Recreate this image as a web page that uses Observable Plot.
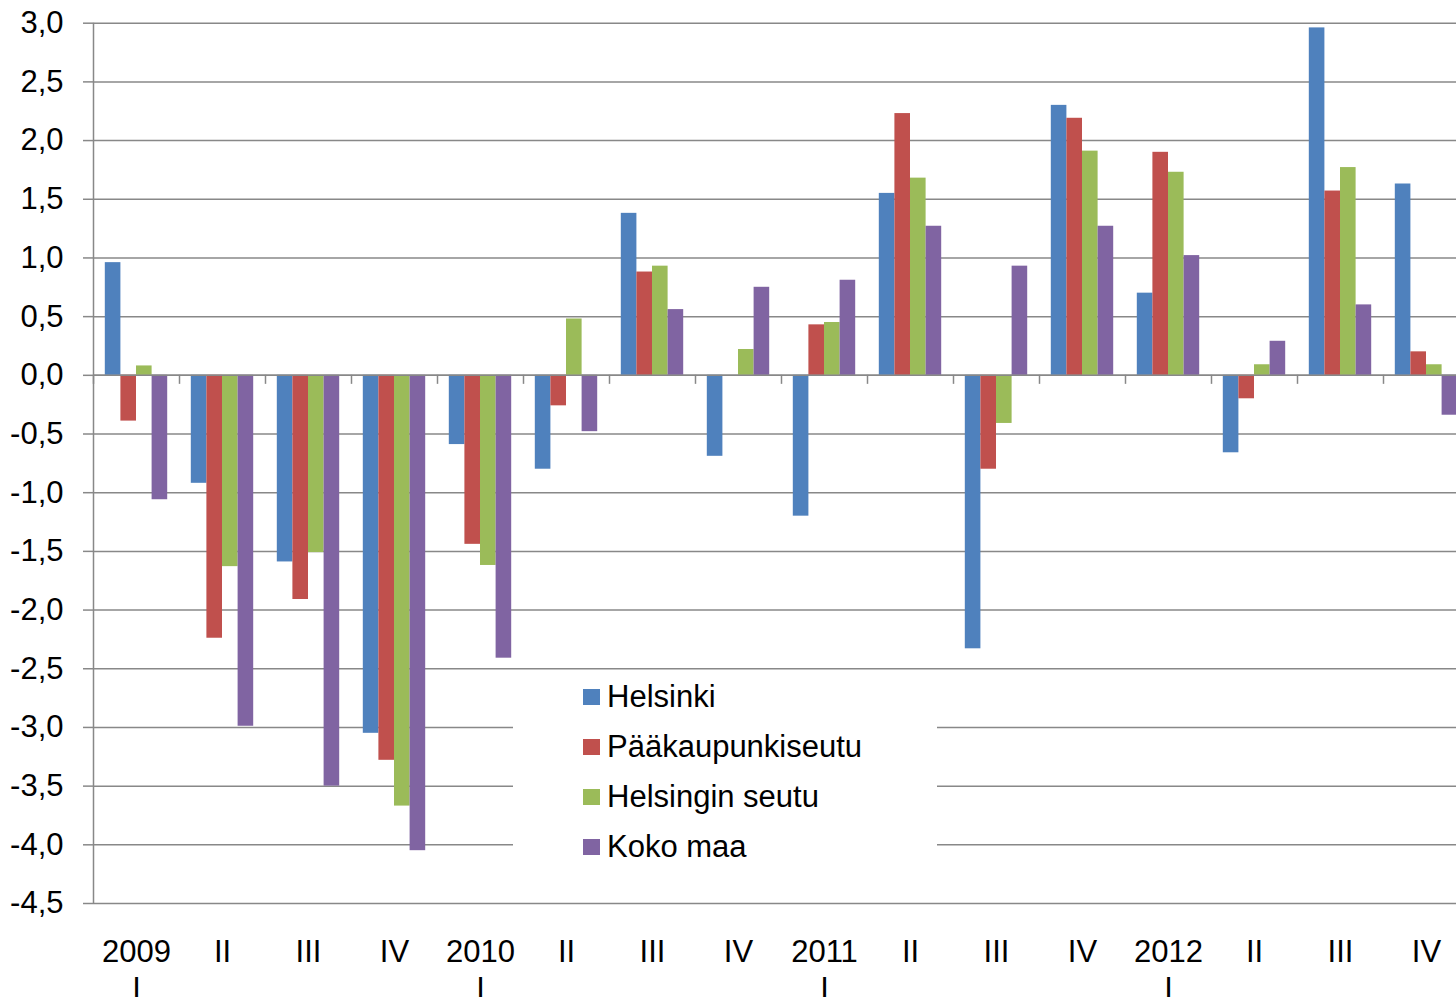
<!DOCTYPE html>
<html><head><meta charset="utf-8">
<script src="https://cdn.jsdelivr.net/npm/d3@7"></script>
<script src="https://cdn.jsdelivr.net/npm/@observablehq/plot@0.6"></script>
<style>
html,body{margin:0;padding:0;background:#fff;overflow:hidden;}
#wrap{position:relative;width:1456px;height:997px;}
#legend{position:absolute;left:513px;top:672px;width:424px;height:228px;background:#fff;font-family:"Liberation Sans",Arial,sans-serif;font-size:31px;color:#000;}
.item{display:flex;align-items:center;height:50px;padding-left:70px;}
.sw{width:17px;height:16px;margin-right:7px;flex:none;}
</style></head><body><div id="wrap"></div>
<script>
const quarters = ["2009 I","2009 II","2009 III","2009 IV","2010 I","2010 II","2010 III","2010 IV","2011 I","2011 II","2011 III","2011 IV","2012 I","2012 II","2012 III","2012 IV"];
const tickLabels = ["2009\nI","II","III","IV","2010\nI","II","III","IV","2011\nI","II","III","IV","2012\nI","II","III","IV"];
const seriesNames = ["Helsinki","Pääkaupunkiseutu","Helsingin seutu","Koko maa"];
const colors = ["#4F81BD","#C0504D","#9BBB59","#8064A2"];
const helsinki         = [0.96,-0.92,-1.59,-3.05,-0.59,-0.80,1.38,-0.69,-1.20,1.55,-2.33,2.30,0.70,-0.66,2.96,1.63];
const paakaupunkiseutu = [-0.39,-2.24,-1.91,-3.28,-1.44,-0.26,0.88,0.00,0.43,2.23,-0.80,2.19,1.90,-0.20,1.57,0.20];
const helsinginSeutu   = [0.08,-1.63,-1.51,-3.67,-1.62,0.48,0.93,0.22,0.45,1.68,-0.41,1.91,1.73,0.09,1.77,0.09];
const kokoMaa          = [-1.06,-2.99,-3.50,-4.05,-2.41,-0.48,0.56,0.75,0.81,1.27,0.93,1.27,1.02,0.29,0.60,-0.34];
const yTicks = [-4.5,-4.0,-3.5,-3.0,-2.5,-2.0,-1.5,-1.0,-0.5,0.0,0.5,1.0,1.5,2.0,2.5,3.0];

const seriesValues = [helsinki, paakaupunkiseutu, helsinginSeutu, kokoMaa];
const table = seriesNames.flatMap((s, i) => quarters.map((q, j) => ({quarter: q, series: s, value: seriesValues[i][j]})));

const xRange = [92.7, 1468.7];
const band = (xRange[1] - xRange[0]) / quarters.length;
const half = band / 2;
const slot = 15.6, groupStart = 11.8;
const gray = "#888888";
const font = '"Liberation Sans", Arial, sans-serif';

const barMarks = seriesNames.map((s, i) => Plot.barY(table.filter(d => d.series === s), {
  x: "quarter", y1: 0, y2: "value", fill: colors[i],
  insetLeft: groupStart + i * slot,
  insetRight: band - groupStart - (i + 1) * slot
}));

const chart = Plot.plot({
  width: 1456, height: 997,
  marginLeft: 93, marginRight: 0, marginTop: 23, marginBottom: 94,
  style: {fontFamily: font, background: "#fff", color: "#000"},
  x: {type: "band", domain: quarters, range: xRange, padding: 0},
  y: {domain: [-4.5, 3], range: [903, 22.7]},
  marks: [
    Plot.gridY(yTicks, {stroke: gray, strokeOpacity: 1, strokeWidth: 1.5}),
    ...barMarks,
    Plot.ruleY([0], {stroke: gray, strokeWidth: 1.5}),
    Plot.ruleX([quarters[0]], {dx: -half, y1: -4.5, y2: 3, stroke: gray, strokeWidth: 1.5}),
    Plot.ruleX(quarters, {dx: -half, y1: 0, y2: -0.077, stroke: gray, strokeWidth: 1.5}),
    Plot.axisY(yTicks, {tickSize: 10, tickPadding: 20, stroke: gray, strokeWidth: 1.5, fill: "#000", fontSize: 31,
      tickFormat: d => d.toFixed(1).replace(".", ","), label: null}),
    Plot.axisX({tickSize: 0, tickPadding: 32, fill: "#000", fontSize: 31, lineHeight: 1.2,
      tickFormat: q => tickLabels[quarters.indexOf(q)], label: null})
  ]
});

const wrap = document.getElementById("wrap");
wrap.appendChild(chart);
const legend = document.createElement("div");
legend.id = "legend";
seriesNames.forEach((s, i) => {
  const item = document.createElement("div");
  item.className = "item";
  const sw = document.createElement("span");
  sw.className = "sw";
  sw.style.background = colors[i];
  const t = document.createElement("span");
  t.textContent = s;
  item.appendChild(sw); item.appendChild(t);
  legend.appendChild(item);
});
wrap.appendChild(legend);
</script>
</body></html>
